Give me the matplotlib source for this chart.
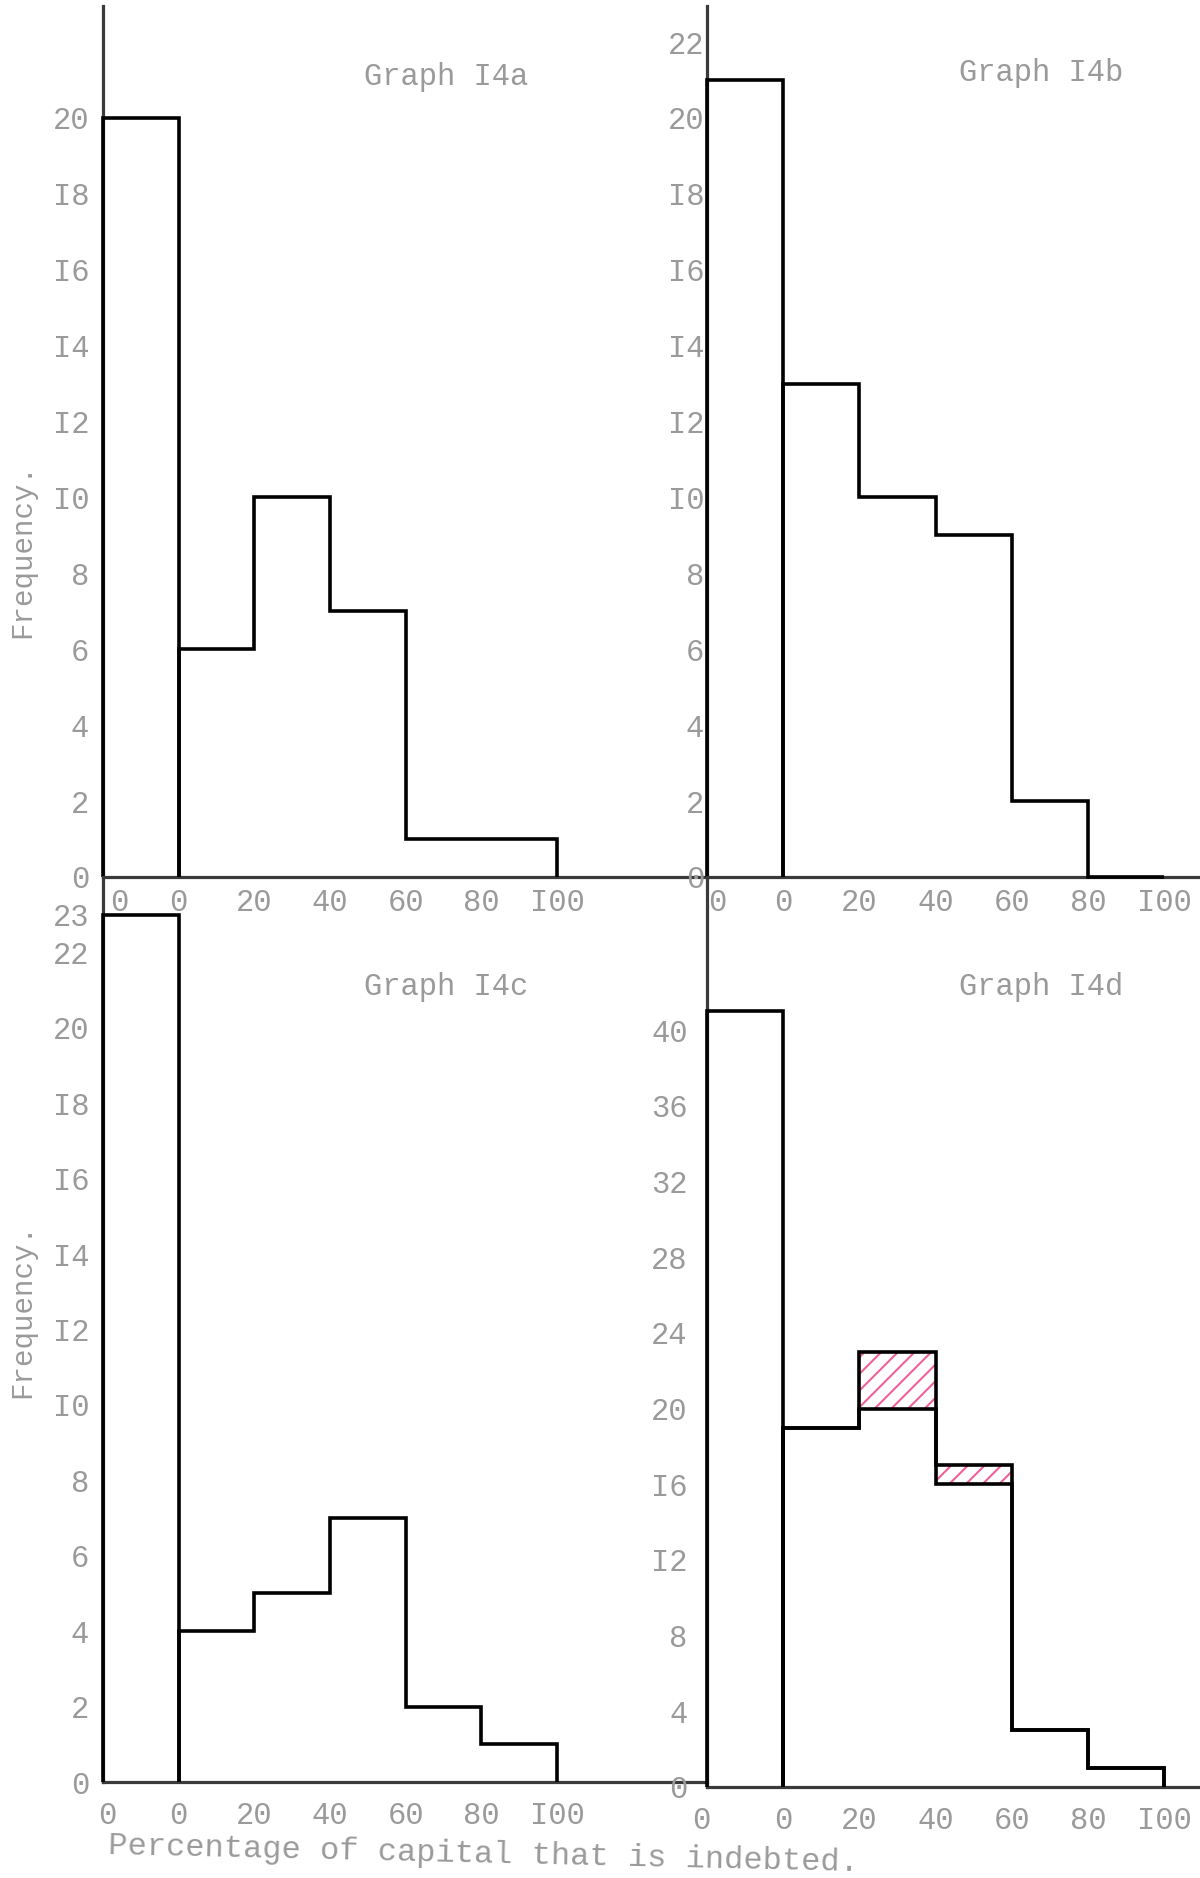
import matplotlib
matplotlib.use("Agg")
import matplotlib.pyplot as plt
from matplotlib.transforms import ScaledTranslation

plt.rcParams['font.family'] = ['Liberation Mono', 'DejaVu Sans Mono']
plt.rcParams['hatch.linewidth'] = 1.5

# ---- data ----
x_tick_labels = ["0", "0", "20", "40", "60", "80", "I00"]
titles = ["Graph I4a", "Graph I4b", "Graph I4c", "Graph I4d"]

a_values = [20, 6, 10, 7, 1, 1]
b_values = [21, 13, 10, 9, 2, 0]
c_values = [23, 4, 5, 7, 2, 1]
d_values = [41, 19, 20, 16, 3, 1]
d_extra = [0, 0, 3, 1, 0, 0]  # pink hatched additions

a_yticks = [0, 2, 4, 6, 8, 10, 12, 14, 16, 18, 20]
a_ylabels = ["0", "2", "4", "6", "8", "I0", "I2", "I4", "I6", "I8", "20"]
b_yticks = [0, 2, 4, 6, 8, 10, 12, 14, 16, 18, 20, 22]
b_ylabels = ["0", "2", "4", "6", "8", "I0", "I2", "I4", "I6", "I8", "20", "22"]
c_yticks = [0, 2, 4, 6, 8, 10, 12, 14, 16, 18, 20, 22, 23]
c_ylabels = ["0", "2", "4", "6", "8", "I0", "I2", "I4", "I6", "I8", "20", "22", "23"]
d_yticks = [0, 4, 8, 12, 16, 20, 24, 28, 32, 36, 40]
d_ylabels = ["0", "4", "8", "I2", "I6", "20", "24", "28", "32", "36", "40"]

y_label = "Frequency."
x_label = "Percentage of capital that is indebted."

# ---- layout ----
W, H = 1200, 1878
fig = plt.figure(figsize=(W / 100, H / 100), dpi=100)
fig.patch.set_facecolor('white')

def px_axes(l, t, r, b):
    return fig.add_axes([l / W, 1 - b / H, (r - l) / W, (b - t) / H])

TXT = '#9a9a9a'
SPINE = '#3a3a3a'
FS = 22

edges = [0, 1, 2, 3, 4, 5, 6]

def setup(ax, xmax, ymax, yticks, ylabels, ypad, xpad, first_dx):
    for s in ['top', 'right']:
        ax.spines[s].set_visible(False)
    for s in ['left', 'bottom']:
        ax.spines[s].set_color(SPINE)
        ax.spines[s].set_linewidth(2.3)
    ax.set_facecolor('none')
    ax.set_yticks(yticks)
    ax.set_yticklabels(ylabels)
    ax.tick_params(axis='y', length=0, pad=ypad, labelsize=FS, labelcolor=TXT)
    ax.set_xticks(edges)
    ax.set_xticklabels(x_tick_labels)
    ax.tick_params(axis='x', which='major', length=0, pad=xpad, labelsize=FS, labelcolor=TXT)
    ax.set_xticks([2, 3, 4, 5], minor=True)
    ax.tick_params(axis='x', which='minor', direction='in', length=8, width=2, color=SPINE)
    ax.set_xlim(0, xmax)
    ax.set_ylim(0, ymax)
    lab = ax.get_xticklabels()[0]
    lab.set_transform(lab.get_transform() + ScaledTranslation(first_dx / 100, 0, fig.dpi_scale_trans))

def draw_hist(ax, values):
    ax.stairs([values[0]], edges[:2], baseline=0, color='black', lw=2.6, clip_on=False, zorder=3)
    ax.stairs(values[1:], edges[1:], baseline=0, color='black', lw=2.6, clip_on=False, zorder=3)

# Panel a
ax_a = px_axes(103, 6, 707, 877)
setup(ax_a, 7.98, 22.95, a_yticks, a_ylabels, 10, 8, 16)
draw_hist(ax_a, a_values)

# Panel b
ax_b = px_axes(707, 6, 1200, 877)
setup(ax_b, 6.47, 22.95, b_yticks, b_ylabels, 2, 8, 10)
draw_hist(ax_b, b_values)

# Panel c
ax_c = px_axes(103, 877, 707, 1782)
setup(ax_c, 7.98, 24.0, c_yticks, c_ylabels, 10, 14, 4)
draw_hist(ax_c, c_values)

# Panel d
ax_d = px_axes(707, 877, 1200, 1787)
setup(ax_d, 6.47, 48.1, d_yticks, d_ylabels, 14, 14, -6)
upper = [v + e for v, e in zip(d_values, d_extra)]
ax_d.bar([e + 0.5 for e in edges[:-1]], d_extra, width=1.0, bottom=d_values,
         fill=False, hatch='//', edgecolor='#f0609a', linewidth=0, zorder=2)
draw_hist(ax_d, d_values)
ax_d.stairs(upper[1:], edges[1:], baseline=0, color='black', lw=2.6, clip_on=False, zorder=3)
ax_d.set_xlim(0, 6.47)
ax_d.set_ylim(0, 48.1)

# Titles
fig.text(446 / W, 1 - 77 / H, titles[0], ha='center', va='center', fontsize=FS, color=TXT)
fig.text(1041 / W, 1 - 73 / H, titles[1], ha='center', va='center', fontsize=FS, color=TXT)
fig.text(446 / W, 1 - 987 / H, titles[2], ha='center', va='center', fontsize=FS, color=TXT)
fig.text(1041 / W, 1 - 987 / H, titles[3], ha='center', va='center', fontsize=FS, color=TXT)

# Axis labels
fig.text(22 / W, 1 - 551 / H, y_label, rotation=90, ha='center', va='center', fontsize=21, color=TXT)
fig.text(22 / W, 1 - 1311 / H, y_label, rotation=90, ha='center', va='center', fontsize=21, color=TXT)
fig.text(108 / W, 1 - 1846 / H, x_label, rotation=-1.3, ha='left', va='center',
         fontsize=23, color=TXT, rotation_mode='anchor')

fig.savefig('out.png', dpi=100, facecolor='white')
